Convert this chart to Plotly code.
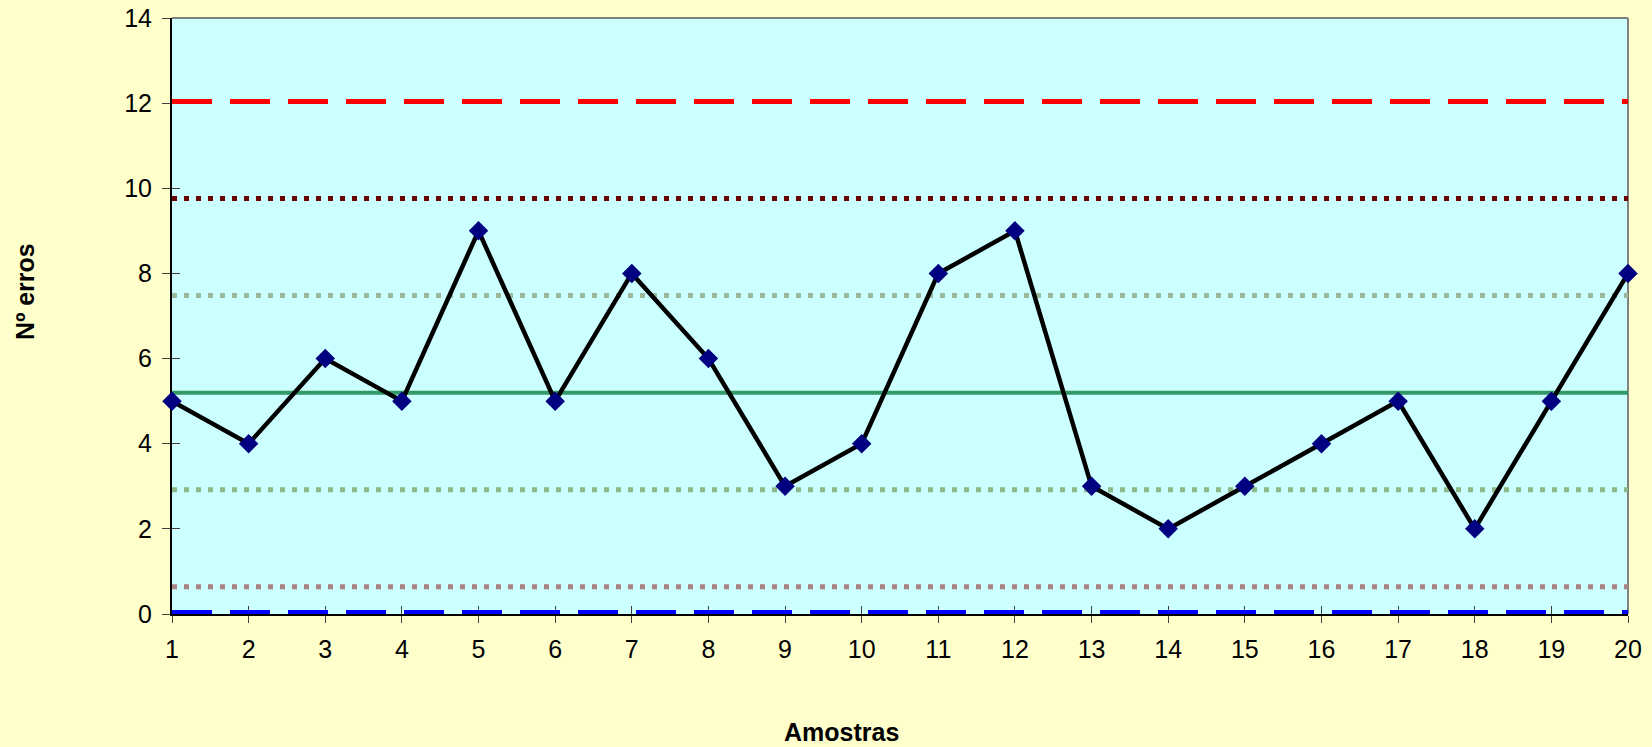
import plotly.graph_objects as go

amostras = list(range(1, 21))
erros = [5, 4, 6, 5, 9, 5, 8, 6, 3, 4, 8, 9, 3, 2, 3, 4, 5, 2, 5, 8]

# control levels
lsc = 12.04      # upper control limit
ls2 = 9.76       # +2 sigma
ls1 = 7.48       # +1 sigma
lc = 5.2         # centre line
li1 = 2.92       # -1 sigma
li2 = 0.64       # -2 sigma
lic = 0.0        # lower control limit

y_ticks = [0, 2, 4, 6, 8, 10, 12, 14]

FONT = "Liberation Sans, Arial, sans-serif"

fig = go.Figure()

xs = [amostras[0], amostras[-1]]

def hline(val, color, dash, width):
    fig.add_trace(go.Scatter(
        x=xs, y=[val, val], mode="lines",
        line=dict(color=color, dash=dash, width=width),
        hoverinfo="skip", showlegend=False, cliponaxis=False))

hline(lsc, "#FF0000", "40px,18px", 5)
hline(ls2, "#6B0000", "5px,7px", 5)
hline(ls1, "#9CB89C", "5px,7px", 5)
hline(lc, "#339966", "solid", 4)
hline(li1, "#8DB88A", "5px,7px", 5)
hline(li2, "#A88484", "5px,7px", 5)
hline(lic, "#0000FF", "40px,18px", 8)   # half of it is clipped by the plot area

fig.add_trace(go.Scatter(
    x=amostras, y=erros, mode="lines+markers",
    line=dict(color="#000000", width=4.5),
    marker=dict(symbol="diamond", size=15, color="#000080"),
    showlegend=False, cliponaxis=False))

# invisible trace to activate overlay axes (inner half of the crossing ticks)
fig.add_trace(go.Scatter(x=xs, y=[lic, lic], xaxis="x2", yaxis="y2",
                         mode="lines", line=dict(width=0), hoverinfo="skip",
                         showlegend=False))

tickfont = dict(family=FONT, size=25, color="#000000")

fig.update_layout(
    width=1652, height=747,
    margin=dict(l=172, r=24, t=18, b=133, autoexpand=False),
    paper_bgcolor="#FFFFCC",
    plot_bgcolor="#CCFFFF",
    font=dict(family=FONT, color="#000000"),
    xaxis=dict(range=[1, 20], tick0=1, dtick=1, showgrid=False, zeroline=False,
               showline=True, linecolor="#000000", linewidth=2, automargin=False,
               ticks="outside", ticklen=7, tickcolor="#404040", tickwidth=1,
               tickfont=tickfont, layer="below traces", ticklabelstandoff=5),
    yaxis=dict(range=[0, 14], tickvals=y_ticks, showgrid=False, zeroline=False,
               showline=True, linecolor="#000000", linewidth=2, automargin=False,
               ticks="outside", ticklen=8, tickcolor="#404040", tickwidth=1,
               tickfont=tickfont, layer="below traces", ticklabelstandoff=5),
    xaxis2=dict(range=[1, 20], tick0=1, dtick=1, overlaying="x", anchor="y2",
                showgrid=False, zeroline=False, showline=False, automargin=False,
                ticks="inside", ticklen=8, tickcolor="#404040", tickwidth=1,
                showticklabels=False, layer="below traces"),
    yaxis2=dict(range=[0, 14], tickvals=y_ticks, overlaying="y", anchor="x2",
                showgrid=False, zeroline=False, showline=False, automargin=False,
                ticks="inside", ticklen=8, tickcolor="#404040", tickwidth=1,
                showticklabels=False, layer="below traces"),
    shapes=[
        dict(type="line", xref="paper", yref="paper", x0=0, x1=1, y0=1, y1=1,
             line=dict(color="#808080", width=2), layer="below"),
        dict(type="line", xref="paper", yref="paper", x0=1, x1=1, y0=0, y1=1,
             line=dict(color="#808080", width=2), layer="below"),
    ],
    annotations=[
        dict(text="<b>Amostras</b>", xref="paper", yref="paper",
             x=0.460, y=-0.198, xanchor="center", yanchor="middle",
             showarrow=False, font=dict(family=FONT, size=25, color="#000000")),
        dict(text="<b>Nº erros</b>", xref="paper", yref="paper",
             x=-0.101, y=0.542, xanchor="center", yanchor="middle",
             textangle=-90, showarrow=False,
             font=dict(family=FONT, size=25, color="#000000")),
    ],
)

fig.write_html("out.html")
